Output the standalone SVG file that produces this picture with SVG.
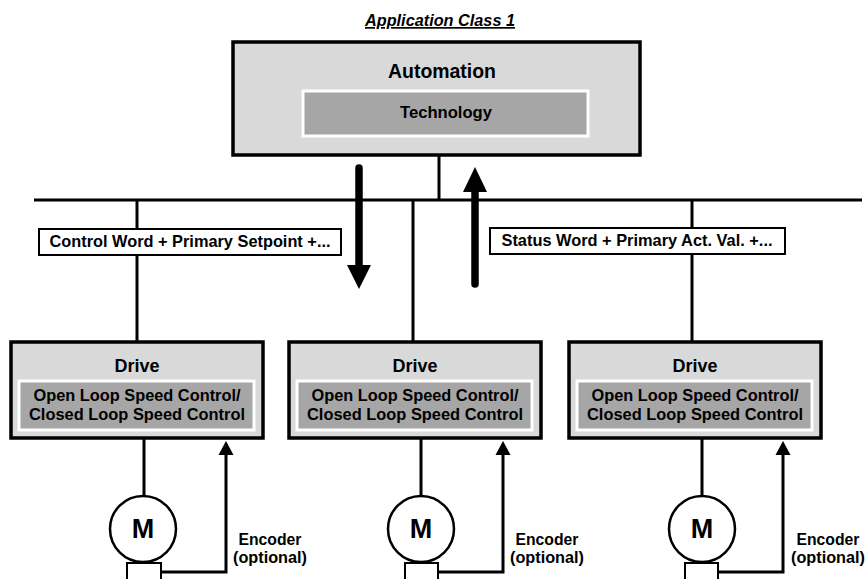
<svg xmlns="http://www.w3.org/2000/svg" width="868" height="579" viewBox="0 0 868 579">
<defs>
<style>
text{font-family:"Liberation Sans",Arial,sans-serif;font-weight:bold;fill:#000;text-anchor:middle}
.outer{fill:#d9d9d9;stroke:#000;stroke-width:3.5}
.inner{fill:#a6a6a6;stroke:#fff;stroke-width:3}
.ln{stroke:#000;stroke-width:3;fill:none}
.lbl{fill:#fff;stroke:#000;stroke-width:2}
.t16{font-size:17px}
.enc{fill:#fff;stroke:#000;stroke-width:2.5}
.ah{fill:#000}
</style>
</defs>
<rect width="868" height="579" fill="#fff"/>
<text x="440" y="26" class="t16" font-style="italic" text-decoration="underline" textLength="150" lengthAdjust="spacingAndGlyphs">Application Class 1</text>

<g id="connectors">
<line class="ln" x1="439" y1="155" x2="439" y2="200"/>
<line class="ln" x1="34" y1="200" x2="862" y2="200"/>
<line class="ln" x1="137" y1="200" x2="137" y2="342"/>
<line class="ln" x1="413" y1="200" x2="413" y2="342"/>
<line class="ln" x1="692" y1="200" x2="692" y2="342"/>
<line x1="359" y1="168" x2="359" y2="268" stroke="#000" stroke-width="7.5" stroke-linecap="round"/>
<polygon class="ah" points="347,265 371,265 359,289"/>
<line x1="475" y1="190" x2="475" y2="284" stroke="#000" stroke-width="7.5" stroke-linecap="round"/>
<polygon class="ah" points="463,192 487,192 475,167"/>
<line class="ln" x1="144" y1="438" x2="144" y2="497"/>
<line class="ln" x1="421" y1="438" x2="421" y2="497"/>
<line class="ln" x1="702" y1="438" x2="702" y2="497"/>
<polyline class="ln" points="161,572 226,572 226,452"/>
<polygon class="ah" points="218.5,455 233.5,455 226,441"/>
<polyline class="ln" points="438,572 503,572 503,452"/>
<polygon class="ah" points="495.5,455 510.5,455 503,441"/>
<polyline class="ln" points="718,572 783,572 783,452"/>
<polygon class="ah" points="775.5,455 790.5,455 783,441"/>
</g>

<g id="label-control">
<rect class="lbl" x="39" y="229" width="302" height="26"/>
<text x="190" y="247" class="t16" textLength="281" lengthAdjust="spacingAndGlyphs">Control Word + Primary Setpoint +...</text>
</g>
<g id="label-status">
<rect class="lbl" x="490" y="228" width="295" height="26"/>
<text x="637" y="246" class="t16" textLength="271" lengthAdjust="spacingAndGlyphs">Status Word + Primary Act. Val. +...</text>
</g>

<g id="automation">
<rect class="outer" x="233" y="42" width="407" height="113"/>
<text x="442" y="78" font-size="20" textLength="108" lengthAdjust="spacingAndGlyphs">Automation</text>
<rect class="inner" x="303" y="91" width="285" height="45"/>
<text x="446" y="118" class="t16" textLength="92" lengthAdjust="spacingAndGlyphs">Technology</text>
</g>

<g id="drive1">
<rect class="outer" x="11" y="342" width="252" height="96"/>
<text x="137" y="372" font-size="18" textLength="45" lengthAdjust="spacingAndGlyphs">Drive</text>
<rect class="inner" x="19" y="381" width="235" height="49"/>
<text x="137" y="401" class="t16" textLength="207" lengthAdjust="spacingAndGlyphs">Open Loop Speed Control/</text>
<text x="137" y="420" class="t16" textLength="216" lengthAdjust="spacingAndGlyphs">Closed Loop Speed Control</text>
</g>
<g id="drive2">
<rect class="outer" x="289" y="342" width="252" height="96"/>
<text x="415" y="372" font-size="18" textLength="45" lengthAdjust="spacingAndGlyphs">Drive</text>
<rect class="inner" x="297" y="381" width="235" height="49"/>
<text x="415" y="401" class="t16" textLength="207" lengthAdjust="spacingAndGlyphs">Open Loop Speed Control/</text>
<text x="415" y="420" class="t16" textLength="216" lengthAdjust="spacingAndGlyphs">Closed Loop Speed Control</text>
</g>
<g id="drive3">
<rect class="outer" x="569" y="342" width="252" height="96"/>
<text x="695" y="372" font-size="18" textLength="45" lengthAdjust="spacingAndGlyphs">Drive</text>
<rect class="inner" x="577" y="381" width="235" height="49"/>
<text x="695" y="401" class="t16" textLength="207" lengthAdjust="spacingAndGlyphs">Open Loop Speed Control/</text>
<text x="695" y="420" class="t16" textLength="216" lengthAdjust="spacingAndGlyphs">Closed Loop Speed Control</text>
</g>

<g id="motor1">
<circle class="enc" cx="143" cy="529" r="33"/>
<text x="143" y="538" font-size="27">M</text>
<rect x="127" y="563" width="34" height="22" fill="#fff" stroke="#000" stroke-width="2"/>
<text x="270" y="545" class="t16" textLength="63" lengthAdjust="spacingAndGlyphs">Encoder</text>
<text x="270" y="563" class="t16" textLength="74" lengthAdjust="spacingAndGlyphs">(optional)</text>
</g>
<g id="motor2">
<circle class="enc" cx="421" cy="529" r="33"/>
<text x="421" y="538" font-size="27">M</text>
<rect x="405" y="563" width="33" height="22" fill="#fff" stroke="#000" stroke-width="2"/>
<text x="547" y="545" class="t16" textLength="63" lengthAdjust="spacingAndGlyphs">Encoder</text>
<text x="547" y="563" class="t16" textLength="74" lengthAdjust="spacingAndGlyphs">(optional)</text>
</g>
<g id="motor3">
<circle class="enc" cx="702" cy="529" r="33"/>
<text x="702" y="538" font-size="27">M</text>
<rect x="685" y="563" width="33" height="22" fill="#fff" stroke="#000" stroke-width="2"/>
<text x="828" y="545" class="t16" textLength="63" lengthAdjust="spacingAndGlyphs">Encoder</text>
<text x="828" y="563" class="t16" textLength="74" lengthAdjust="spacingAndGlyphs">(optional)</text>
</g>
</svg>
